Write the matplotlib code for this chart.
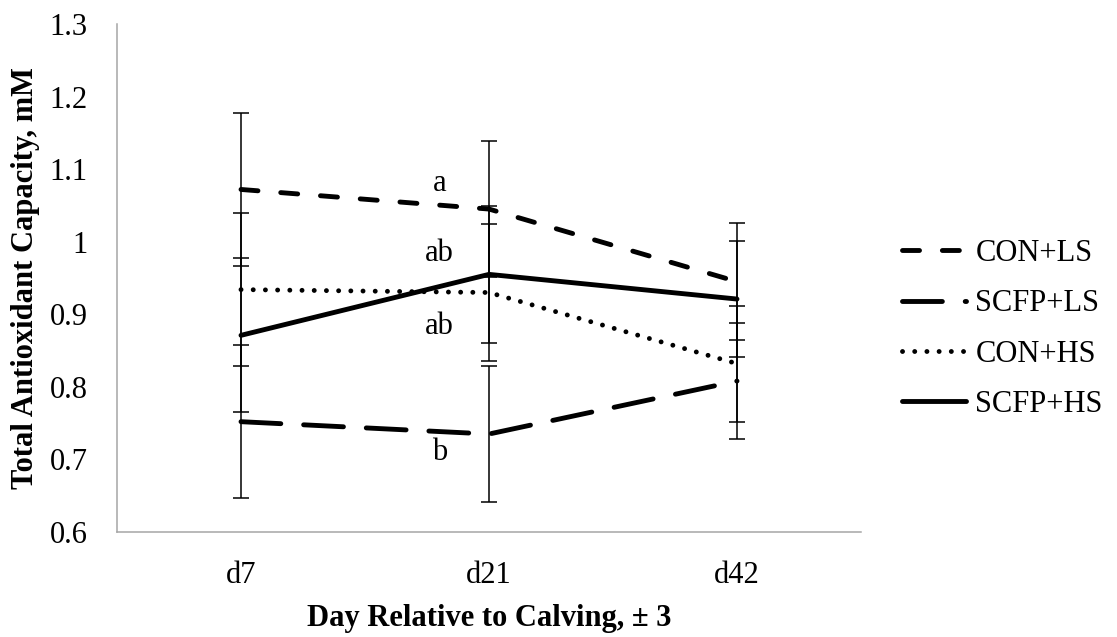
import matplotlib
matplotlib.use("Agg")
import matplotlib.pyplot as plt

plt.rcParams['font.family'] = ['Liberation Serif', 'DejaVu Serif']

# data (mean, +/- SE)
days = ['d7', 'd21', 'd42']
con_ls = [1.072, 1.045, 0.945]
con_ls_se = [0.105, 0.094, 0.081]
scfp_ls = [0.752, 0.735, 0.808]
scfp_ls_se = [0.105, 0.094, 0.080]
con_hs = [0.934, 0.930, 0.832]
con_hs_se = [0.105, 0.094, 0.080]
scfp_hs = [0.871, 0.955, 0.921]
scfp_hs_se = [0.106, 0.094, 0.080]

# significance letters at d21
letters = ['a', 'ab', 'ab', 'b']
letter_y = [1.080, 0.984, 0.883, 0.710]

yticks = [0.6, 0.7, 0.8, 0.9, 1.0, 1.1, 1.2, 1.3]
ytick_labels = ['0.6', '0.7', '0.8', '0.9', '1', '1.1', '1.2', '1.3']

W, H = 1117, 637
fig = plt.figure(figsize=(W / 100, H / 100), dpi=100)
ax = fig.add_axes([117 / W, 1 - 532 / H, (861 - 117) / W, (532 - 24) / H])

x = list(range(len(days)))
FS = 22
LW = 3.5

series = [
    ('CON+LS', con_ls, con_ls_se, (0, (3.5, 4.7))),
    ('SCFP+LS', scfp_ls, scfp_ls_se, (0, (8.2, 4.7))),
    ('CON+HS', con_hs, con_hs_se, (0, (0.01, 2.5))),
    ('SCFP+HS', scfp_hs, scfp_hs_se, '-'),
]

for name, vals, se, ls in series:
    ax.errorbar(x, vals, yerr=se, fmt='none', ecolor='black', elinewidth=1.1,
                capsize=6, capthick=1.1, zorder=2)
for name, vals, se, ls in series:
    ax.plot(x, vals, color='black', lw=LW, linestyle=ls, label=name,
            dash_capstyle='round', solid_capstyle='round', zorder=3)

for t, yv in zip(letters, letter_y):
    ax.text(0.8, yv, t, ha='center', va='center', fontsize=FS)

ax.set_xlim(-0.5, 2.5)
ax.set_ylim(0.6, 1.3)
ax.set_xticks(x)
ax.set_xticklabels(days)
ax.set_yticks(yticks)
ax.set_yticklabels(ytick_labels)
ax.tick_params(axis='both', length=0, labelsize=FS)
ax.tick_params(axis='y', pad=21)
ax.tick_params(axis='x', pad=21)
for s in ['top', 'right']:
    ax.spines[s].set_visible(False)
for s in ['left', 'bottom']:
    ax.spines[s].set_color('#a6a6a6')
    ax.spines[s].set_linewidth(1.1)

ax.set_ylabel('Total Antioxidant Capacity, mM', fontsize=FS, fontweight='bold', labelpad=7)
ax.set_xlabel('Day Relative to Calving, ± 3', fontsize=FS, fontweight='bold', labelpad=10)

fig.legend(loc='center left', bbox_to_anchor=(902 / W, 1 - 329 / H), frameon=False,
           fontsize=FS, handlelength=2.1, handletextpad=0.3, labelspacing=0.7,
           borderpad=0, borderaxespad=0)

fig.savefig('out.png', dpi=100)
